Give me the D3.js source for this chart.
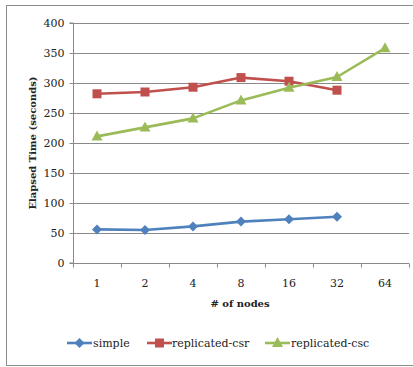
<!DOCTYPE html>
<html>
<head>
<meta charset="utf-8">
<script src="https://cdn.jsdelivr.net/npm/d3@7"></script>
<style>
  html, body { margin: 0; padding: 0; background: #fff; }
  svg { display: block; }
  text { font-family: "DejaVu Serif", serif; fill: #222; }
</style>
</head>
<body>
<svg id="chart" width="413" height="367"></svg>
<script>
// Node counts on the x axis
const nodes = ["1", "2", "4", "8", "16", "32", "64"];
// Elapsed time in seconds per configuration
const simple = [56, 55, 61, 69, 73, 77, null];
const replicatedCsr = [282, 285, 293, 309, 303, 288, null];
const replicatedCsc = [211, 226, 241, 271, 292, 310, 358];
const yTicks = [0, 50, 100, 150, 200, 250, 300, 350, 400];

const series = [
  { name: "simple", values: simple, color: "#4F81BD", marker: "diamond" },
  { name: "replicated-csr", values: replicatedCsr, color: "#C0504D", marker: "square" },
  { name: "replicated-csc", values: replicatedCsc, color: "#9BBB59", marker: "triangle" }
];

const svg = d3.select("#chart");
const margin = { left: 73, right: 4, top: 23, bottom: 104 };
const W = 413, H = 367;

// outer frame
svg.append("rect")
  .attr("x", 6.5).attr("y", 5.5)
  .attr("width", 420).attr("height", 360)
  .attr("fill", "none").attr("stroke", "#8c8c8c").attr("stroke-width", 1);

const x = d3.scaleBand().domain(nodes).range([margin.left, W - margin.right]);
const y = d3.scaleLinear().domain([0, 400]).range([H - margin.bottom, margin.top]);

// gridlines
svg.append("g").selectAll("line").data(yTicks.filter(d => d > 0)).join("line")
  .attr("x1", margin.left).attr("x2", W - margin.right)
  .attr("y1", d => Math.round(y(d)) + 0.5).attr("y2", d => Math.round(y(d)) + 0.5)
  .attr("stroke", "#8a8a8a").attr("stroke-width", 1);

// y axis
const yAxis = svg.append("g")
  .attr("transform", `translate(${margin.left + 0.5},0)`)
  .call(d3.axisLeft(y).tickValues(yTicks).tickSize(4).tickPadding(5));
yAxis.selectAll("path, line").attr("stroke", "#8a8a8a");
yAxis.selectAll("text").style("font-size", "11px").style("font-family", "DejaVu Serif").attr("fill", "#222");
yAxis.select(".domain").attr("d", `M-4,${y(400)}H0V${y(0)}H-4`);

// x axis with ticks between categories
const xAxisG = svg.append("g").attr("transform", `translate(0,${Math.round(y(0)) + 0.5})`);
xAxisG.append("line")
  .attr("x1", margin.left).attr("x2", W - margin.right)
  .attr("stroke", "#8a8a8a");
const bounds = nodes.map(n => x(n)).concat([x(nodes[nodes.length - 1]) + x.bandwidth()]);
xAxisG.selectAll("line.tick").data(bounds).join("line").attr("class", "tick")
  .attr("x1", d => Math.round(d) + 0.5).attr("x2", d => Math.round(d) + 0.5)
  .attr("y1", 0).attr("y2", 4).attr("stroke", "#8a8a8a");
xAxisG.selectAll("text").data(nodes).join("text")
  .attr("x", d => x(d) + x.bandwidth() / 2).attr("y", 23)
  .attr("text-anchor", "middle").style("font-size", "11px")
  .text(d => d);

// axis titles
svg.append("text")
  .attr("transform", `translate(36,${(y(0) + y(400)) / 2}) rotate(-90)`)
  .attr("text-anchor", "middle").style("font-size", "10px").style("font-weight", "bold")
  .text("Elapsed Time (seconds)");
svg.append("text")
  .attr("x", (margin.left + W - margin.right) / 2 - 1).attr("y", 307)
  .attr("text-anchor", "middle").style("font-size", "10px").style("font-weight", "bold")
  .text("# of nodes");

function drawMarker(g, type, cx, cy, color) {
  if (type === "diamond") {
    g.append("path").attr("d", `M${cx},${cy - 5}L${cx + 5},${cy}L${cx},${cy + 5}L${cx - 5},${cy}Z`).attr("fill", color);
  } else if (type === "square") {
    g.append("rect").attr("x", cx - 4.5).attr("y", cy - 4.5).attr("width", 9).attr("height", 9).attr("fill", color);
  } else {
    g.append("path").attr("d", `M${cx},${cy - 6}L${cx + 5.5},${cy + 4}L${cx - 5.5},${cy + 4}Z`).attr("fill", color);
  }
}

const line = d3.line()
  .defined(d => d.v != null)
  .x(d => x(d.n) + x.bandwidth() / 2)
  .y(d => y(d.v));

series.forEach(s => {
  const pts = nodes.map((n, i) => ({ n, v: s.values[i] }));
  const g = svg.append("g");
  g.append("path").datum(pts).attr("d", line)
    .attr("fill", "none").attr("stroke", s.color).attr("stroke-width", 2.6)
    .attr("stroke-linejoin", "round");
  pts.filter(p => p.v != null).forEach(p => drawMarker(g, s.marker, x(p.n) + x.bandwidth() / 2, y(p.v), s.color));
});

// legend
const legendItems = [
  { lx: 67, tx: 93 },
  { lx: 147, tx: 172 },
  { lx: 265, tx: 291 }
];
const ly = 343;
series.forEach((s, i) => {
  const g = svg.append("g");
  const it = legendItems[i];
  g.append("line").attr("x1", it.lx).attr("x2", it.lx + 25).attr("y1", ly).attr("y2", ly)
    .attr("stroke", s.color).attr("stroke-width", 2.6);
  drawMarker(g, s.marker, it.lx + 12.5, ly, s.color);
  g.append("text").attr("x", it.tx).attr("y", ly + 4).style("font-size", "11px").text(s.name);
});
</script>
</body>
</html>
